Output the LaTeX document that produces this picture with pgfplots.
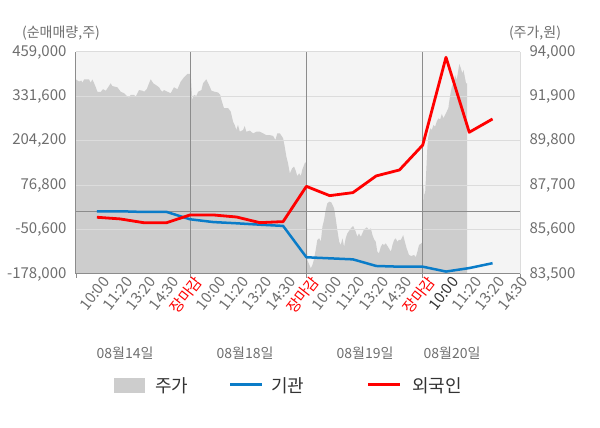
\documentclass[border=0pt]{standalone}
\usepackage{pgfplots}
\pgfplotsset{compat=1.18}
\usepackage{fontspec}
\setmainfont{Noto Sans CJK KR}
\definecolor{bgc}{HTML}{F4F4F4}
\definecolor{areac}{HTML}{CDCDCD}
\definecolor{gridc}{HTML}{DCDCDC}
\definecolor{sepc}{HTML}{8C8C8C}
\definecolor{tickc}{HTML}{6E6E6E}
\definecolor{legc}{HTML}{333333}
\definecolor{bluec}{HTML}{0A7CC8}
\definecolor{redc}{HTML}{FF0000}

\pgfplotstableread{
u p
0.10 83500
0.10 92700
0.23 92600
0.33 92650
0.37 92550
0.45 92700
0.66 92700
0.73 92550
0.80 92700
0.88 92520
0.95 92330
1.02 92120
1.16 92110
1.26 92240
1.38 92170
1.45 92280
1.59 92520
1.66 92390
1.88 92330
2.02 92120
2.17 92050
2.31 91890
2.38 91840
2.45 91970
2.60 91970
2.67 91890
2.81 92200
2.95 92170
3.03 92120
3.14 92240
3.24 92520
3.31 92710
3.42 92520
3.53 92440
3.67 92330
3.74 92200
3.81 92120
3.88 92200
4.03 92120
4.17 92050
4.31 92330
4.46 92240
4.60 92600
4.74 92800
4.89 92960
5.00 92960
5.03 92960
5.06 92360
5.10 91730
5.17 91970
5.27 91920
5.35 92120
5.49 92200
5.56 92520
5.70 92710
5.78 92520
5.85 92360
5.92 92170
6.06 92120
6.21 92080
6.30 91970
6.35 91730
6.46 91340
6.64 91340
6.75 91180
6.85 90700
6.92 90550
6.99 90310
7.06 90550
7.14 90230
7.28 90310
7.35 90500
7.42 90230
7.57 90280
7.71 90150
7.85 90230
8.00 90230
8.14 90150
8.28 90070
8.43 90070
8.57 90030
8.67 89840
8.75 90150
8.86 90150
9.00 89920
9.07 89520
9.14 89050
9.21 88740
9.29 88260
9.39 88500
9.47 88580
9.53 88420
9.61 88130
9.69 88260
9.76 88130
9.82 88420
9.93 88740
10.00 88810
10.04 84160
10.19 83770
10.26 83930
10.30 84080
10.40 84630
10.47 85110
10.55 85190
10.62 85030
10.69 85740
10.76 86050
10.83 86530
10.90 86840
10.98 86920
11.07 86890
11.19 86610
11.26 86130
11.33 85580
11.41 85030
11.48 84870
11.55 85190
11.62 84790
11.69 85190
11.76 85420
11.91 85660
12.01 85770
12.12 85500
12.19 85260
12.26 85420
12.34 85260
12.48 85610
12.60 85710
12.69 85580
12.77 85660
12.84 85340
12.91 85140
12.98 85030
13.05 84550
13.12 84480
13.20 84790
13.27 84920
13.34 84870
13.41 84950
13.55 84710
13.63 84550
13.70 84870
13.77 85110
13.84 85190
13.91 85030
13.98 85110
14.06 85110
14.16 85340
14.23 85030
14.31 84710
14.41 84400
14.51 84350
14.63 84400
14.70 84290
14.77 84550
14.84 84870
14.94 84950
15.00 85030
15.03 87710
15.06 87320
15.10 87240
15.14 88100
15.20 89520
15.24 90000
15.32 90390
15.39 90310
15.46 90550
15.53 90470
15.60 90700
15.67 90860
15.75 90810
15.82 91070
15.89 90860
15.96 91020
16.03 91180
16.10 91340
16.17 91890
16.25 92360
16.32 92520
16.39 92910
16.46 92680
16.53 93150
16.57 93430
16.64 93230
16.70 92990
16.75 93150
16.82 92760
16.86 92520
16.91 92520
16.91 83500
}\pricetable

\pgfplotstableread{
u v
1 1500
2 2000
3 0
4 0
5 -21000
6 -29000
7 -32500
8 -36500
9 -40000
10 -130000
11 -133000
12 -136000
13 -155000
14 -157000
15 -157000
16 -171000
17 -161000
18 -147000
}\insttable

\pgfplotstableread{
u v
1 -15200
2 -20000
3 -30700
4 -30700
5 -8600
6 -8600
7 -14500
8 -30700
9 -27700
10 73500
11 46800
12 55500
13 103400
14 120500
15 192000
16 443800
17 228700
18 266800
}\fortable

\begin{document}
\begin{tikzpicture}[x=1pt,y=1pt]
\path[use as bounding box] (0,0) rectangle (600,428);
% price axis (right)
\begin{axis}[
  at={(76pt,154pt)}, anchor=south west,
  scale only axis, width=444pt, height=222pt,
  xmin=0.1, xmax=19.18, ymin=83500, ymax=94000,
  axis background/.style={fill=bgc},
  axis x line*=bottom, axis y line*=right,
  x axis line style={-, draw=sepc, line width=1pt},
  y axis line style={-, draw=gridc, line width=1pt},
  xtick={0.1,5,10,15,19.18}, xticklabels={},
  tick align=outside, major tick length=4pt,
  xtick style={draw=sepc, line width=1pt},
  ytick={83500,85600,87700,89800,91900,94000},
  ytick style={draw=none},
  scaled y ticks=false,
  yticklabel style={font=\fontsize{15}{18}\selectfont, text=tickc, anchor=west, xshift=2pt},
  /pgf/number format/assume math mode=true,
  /pgf/number format/.cd, fixed, 1000 sep={,},
]
\addplot[fill=areac, draw=none] table[x=u, y=p] {\pricetable};
\end{axis}
% net volume axis (left)
\begin{axis}[
  at={(76pt,154pt)}, anchor=south west,
  scale only axis, width=444pt, height=222pt,
  xmin=0.1, xmax=19.18, ymin=-178000, ymax=459000,
  axis x line*=bottom, axis y line*=left,
  axis line style={-, draw=sepc, line width=1pt},
  ytick={-178000,-50600,76800,204200,331600,459000},
  scaled y ticks=false,
  ymajorgrids, major grid style={draw=gridc, line width=1pt},
  extra y ticks={0}, extra y tick labels={},
  extra y tick style={grid=major, major grid style={draw=sepc, line width=1pt}},
  xtick={1,...,19},
  xticklabels={10:00,11:20,13:20,14:30,\textcolor{redc}{장마감},10:00,11:20,13:20,14:30,\textcolor{redc}{장마감},10:00,11:20,13:20,14:30,\textcolor{redc}{장마감},\textcolor{legc}{10:00},11:20,13:20,14:30},
  extra x ticks={5,10,15}, extra x tick labels={},
  extra x tick style={grid=major, major grid style={draw=sepc, line width=1pt}},
  major tick length=0pt,
  xticklabel style={font=\fontsize{15}{18}\selectfont, text=tickc, rotate=52, anchor=east, inner sep=1pt, yshift=-10pt, xshift=3pt},
  yticklabel style={font=\fontsize{15}{18}\selectfont, text=tickc, anchor=east, xshift=-6pt},
  /pgf/number format/assume math mode=true,
  /pgf/number format/.cd, fixed, 1000 sep={,},
]
\addplot[draw=bluec, line width=2.5pt, line join=round] table[x=u, y=v] {\insttable};
\addplot[draw=redc, line width=2.8pt, line join=round] table[x=u, y=v] {\fortable};
\end{axis}
% axis titles
\node[font=\fontsize{14}{16}\selectfont, text=tickc] at (61,395) {(순매매량,주)};
\node[font=\fontsize{14}{16}\selectfont, text=tickc] at (535,395) {(주가,원)};
% date labels
\begin{scope}[every node/.style={font=\fontsize{14}{16}\selectfont, text=tickc}]
\node at (125,75) {08월14일};
\node at (245,75) {08월18일};
\node at (365,75) {08월19일};
\node at (452,75) {08월20일};
\end{scope}
% legend
\fill[areac] (114,35) rectangle (145,50);
\node[anchor=west, inner sep=0pt, font=\fontsize{18}{20}\selectfont, text=legc] at (155,42.5) {주가};
\draw[bluec, line width=3pt] (230,43) -- (262,43);
\node[anchor=west, inner sep=0pt, font=\fontsize{18}{20}\selectfont, text=legc] at (271,42.5) {기관};
\draw[redc, line width=3pt] (368,43) -- (400,43);
\node[anchor=west, inner sep=0pt, font=\fontsize{18}{20}\selectfont, text=legc] at (412,42.5) {외국인};
\end{tikzpicture}
\end{document}
